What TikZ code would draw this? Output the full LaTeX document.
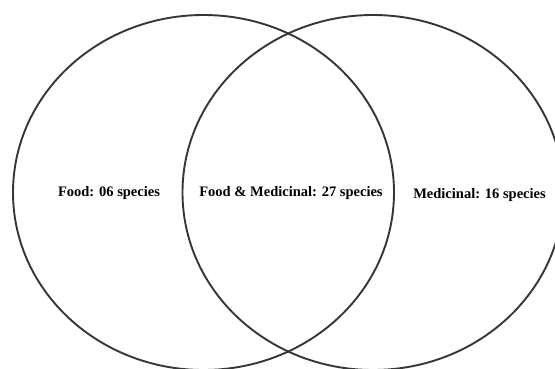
\documentclass[tikz,border=0pt]{standalone}
\usepackage{fontspec}
\setmainfont{Liberation Serif}
\usepackage{tikz}
\usetikzlibrary{positioning,shapes.geometric}
\definecolor{ringgray}{HTML}{363636}

\begin{document}
\begin{tikzpicture}[x=1pt,y=-1pt,
                    ring/.style={ellipse,draw=ringgray,line width=1.9pt,
                                 minimum width=381pt,minimum height=355pt,inner sep=0pt},
                    tag/.style={font=\bfseries\fontsize{14.5}{17}\selectfont,inner sep=1pt}]

  \useasboundingbox (0,0) rectangle (555,369);

  \node[ring] at(203.5,192.5) (food) {};
  \node[ring] at(373,192.5) (medicinal) {};

  \node[tag] at(109,193) (foodonly) {Food: 06 species};
  \node[tag] at(291,193) (both) {Food \& Medicinal: 27 species};
  \node[tag] at(479.5,195) (medonly) {Medicinal: 16 species};

\end{tikzpicture}
\end{document}
